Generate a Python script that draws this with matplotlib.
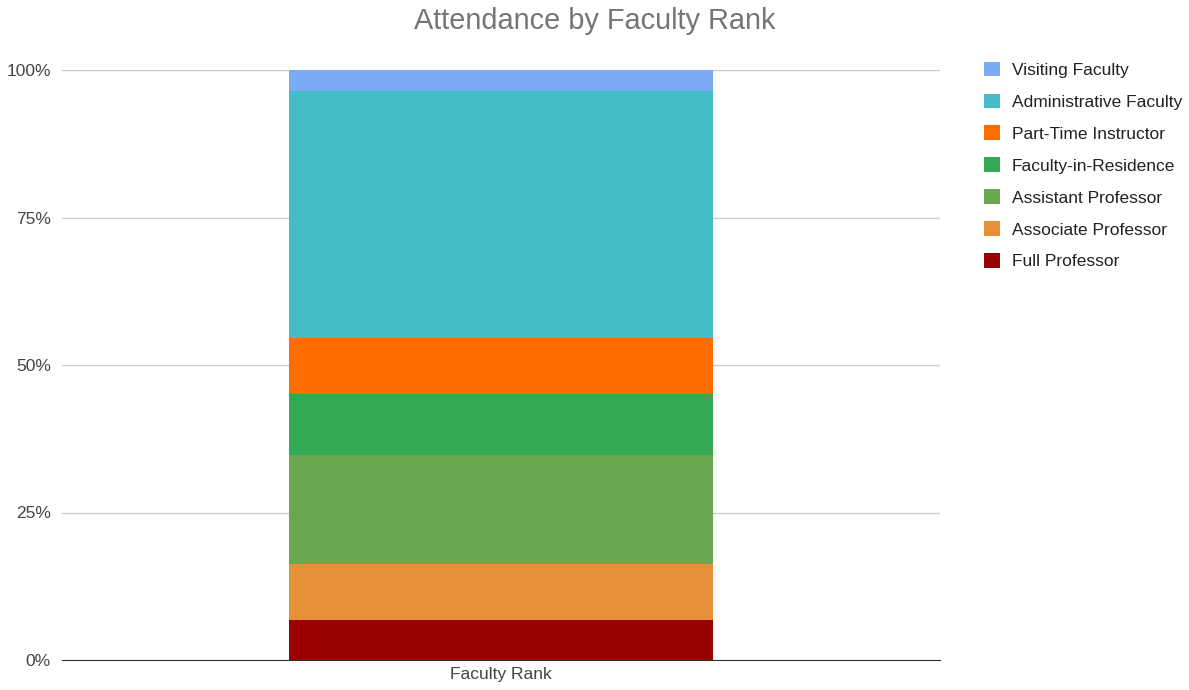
import matplotlib
matplotlib.use("Agg")
import matplotlib.pyplot as plt
from matplotlib.patches import Patch
from matplotlib.ticker import PercentFormatter

plt.rcParams['font.family'] = ['Liberation Sans', 'DejaVu Sans']

category = "Faculty Rank"
series = ["Full Professor", "Associate Professor", "Assistant Professor",
          "Faculty-in-Residence", "Part-Time Instructor",
          "Administrative Faculty", "Visiting Faculty"]
values = [6.78, 9.56, 18.40, 10.29, 9.61, 41.80, 3.56]
colors = ["#990000", "#e69138", "#6aa84f", "#34a853", "#ff6d01", "#46bdc6", "#7baaf7"]
yticks = [0, 25, 50, 75, 100]

fig = plt.figure(figsize=(11.89, 6.90), dpi=100)
ax = fig.add_axes([62/1189, 30/690, 878/1189, 590/690])

total = sum(values)
bottom = 0
for name, v, c in zip(series, values, colors):
    pct = v / total * 100
    ax.bar([0], [pct], bottom=bottom, width=0.482, color=c, label=name, zorder=3)
    bottom += pct

ax.set_xlim(-0.5, 0.5)
ax.set_ylim(0, 100)
ax.set_yticks(yticks)
ax.yaxis.set_major_formatter(PercentFormatter(decimals=0))
ax.set_xticks([0])
ax.set_xticklabels([category])
ax.grid(axis='y', color='#cccccc', linewidth=1, zorder=0)
for s in ['top', 'right', 'left']:
    ax.spines[s].set_visible(False)
ax.spines['bottom'].set_color('#333333')
ax.spines['bottom'].set_zorder(4)
ax.tick_params(axis='both', length=0, labelsize=12.5, labelcolor='#444444')
ax.tick_params(axis='y', pad=8)
ax.tick_params(axis='x', pad=5)

fig.text(595/1189, 1 - 21/690, "Attendance by Faculty Rank", ha='center', va='center',
         fontsize=20.8, color='#757575')

handles = [Patch(facecolor=c, edgecolor='none') for c in colors][::-1]
labels = series[::-1]
fig.legend(handles, labels, loc='upper left', bbox_to_anchor=(968/1189, 1 - 46/690),
           frameon=False, fontsize=12.5, labelcolor='#222222',
           handlelength=0.92, handleheight=0.92, handletextpad=0.69, labelspacing=0.9)

fig.savefig("out.png", dpi=100, facecolor='white')
